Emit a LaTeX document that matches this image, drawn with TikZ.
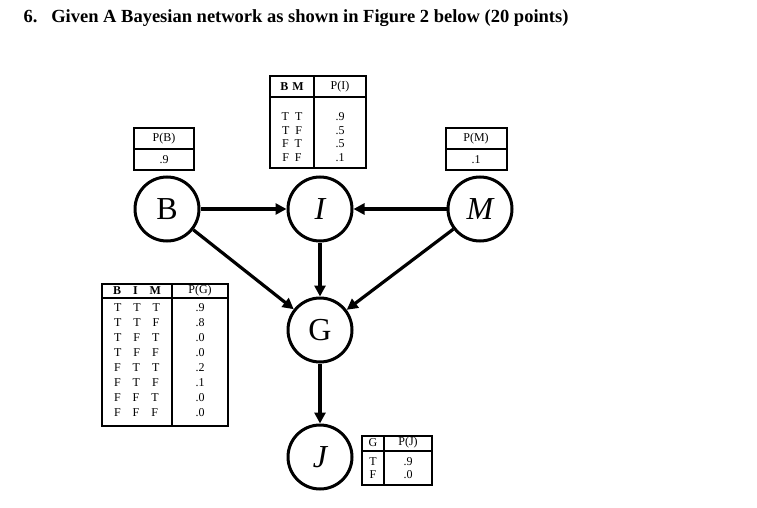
\documentclass[tikz,border=0pt]{standalone}
\usepackage{fontspec}
\setmainfont{Liberation Serif}
\usetikzlibrary{arrows.meta}
\begin{document}
\begin{tikzpicture}[x=1pt,y=-1pt,
  v/.style={circle,draw,line width=3pt,minimum size=64pt,inner sep=0pt,font=\fontsize{32}{34}\selectfont},
  e/.style={line width=3.2pt,-{Triangle[length=11pt,width=11pt]}},
  tb/.style={draw,line width=2pt},
  t/.style={font=\fontsize{12}{12.5}\selectfont,inner sep=0pt,align=center}]
\useasboundingbox (0,0) rectangle (757,508);
\node[anchor=west,font=\bfseries\fontsize{18.5}{20}\selectfont] (title) at (20,18) {6.\ \ \ Given A Bayesian network as shown in Figure 2 below (20 points)};
\node[v] (B) at (167,209) {B};
\node[v] (I) at (320,209) {\itshape I};
\node[v] (M) at (480,209) {\itshape M};
\node[v] (G) at (320,330) {G};
\node[v] (J) at (320,457) {\itshape J};
\draw[e] (B) -- (I);
\draw[e] (M) -- (I);
\draw[e] (I) -- (G);
\draw[e] (B) -- (G);
\draw[e] (M) -- (G);
\draw[e] (G) -- (J);
% P(I)
\draw[tb] (270,76) rectangle (366,168);
\draw[tb] (270,97) -- (366,97) (314,76) -- (314,168);
\node[t,font=\bfseries\fontsize{12}{12}\selectfont] (ih) at (292,87) {B\,\,M};
\node[t] (ip) at (340,87) {P(I)};
\node[t,font=\fontsize{12}{13.5}\selectfont] (ib) at (292,137) {T\,\,\,T\\T\,\,\,F\\F\,\,\,T\\F\,\,\,F};
\node[t,font=\fontsize{12}{13.5}\selectfont] (iv) at (340,137) {.9\\.5\\.5\\.1};
% P(B)
\draw[tb] (134,128) rectangle (194,170);
\draw[tb] (134,149) -- (194,149);
\node[t] (bh) at (164,139) {P(B)};
\node[t] (bv) at (164,160) {.9};
% P(M)
\draw[tb] (446,128) rectangle (507,170);
\draw[tb] (446,149) -- (507,149);
\node[t] (mh) at (476,139) {P(M)};
\node[t] (mv) at (476,160) {.1};
% P(G)
\draw[tb] (102,284) rectangle (228,426);
\draw[tb] (102,298) -- (228,298) (172,284) -- (172,426);
\node[t,font=\bfseries\fontsize{12}{12}\selectfont] (gh) at (137,291) {B\quad I\quad M};
\node[t] (gp) at (200,291) {P(G)};
\node[t,align=left,font=\fontsize{12}{15}\selectfont] (gb) at (137,360) {T\quad T\quad T\\T\quad T\quad F\\T\quad F\quad T\\T\quad F\quad F\\F\quad T\quad T\\F\quad T\quad F\\F\quad F\quad T\\F\quad F\quad F};
\node[t,font=\fontsize{12}{15}\selectfont] (gv) at (200,360) {.9\\.8\\.0\\.0\\.2\\.1\\.0\\.0};
% P(J)
\draw[tb] (362,436) rectangle (432,485);
\draw[tb] (362,451) -- (432,451) (384,436) -- (384,485);
\node[t] (jh) at (373,443) {G};
\node[t] (jp) at (408,443) {P(J)};
\node[t] (jb) at (373,468) {T\\F};
\node[t] (jv) at (408,468) {.9\\.0};
\end{tikzpicture}
\end{document}
